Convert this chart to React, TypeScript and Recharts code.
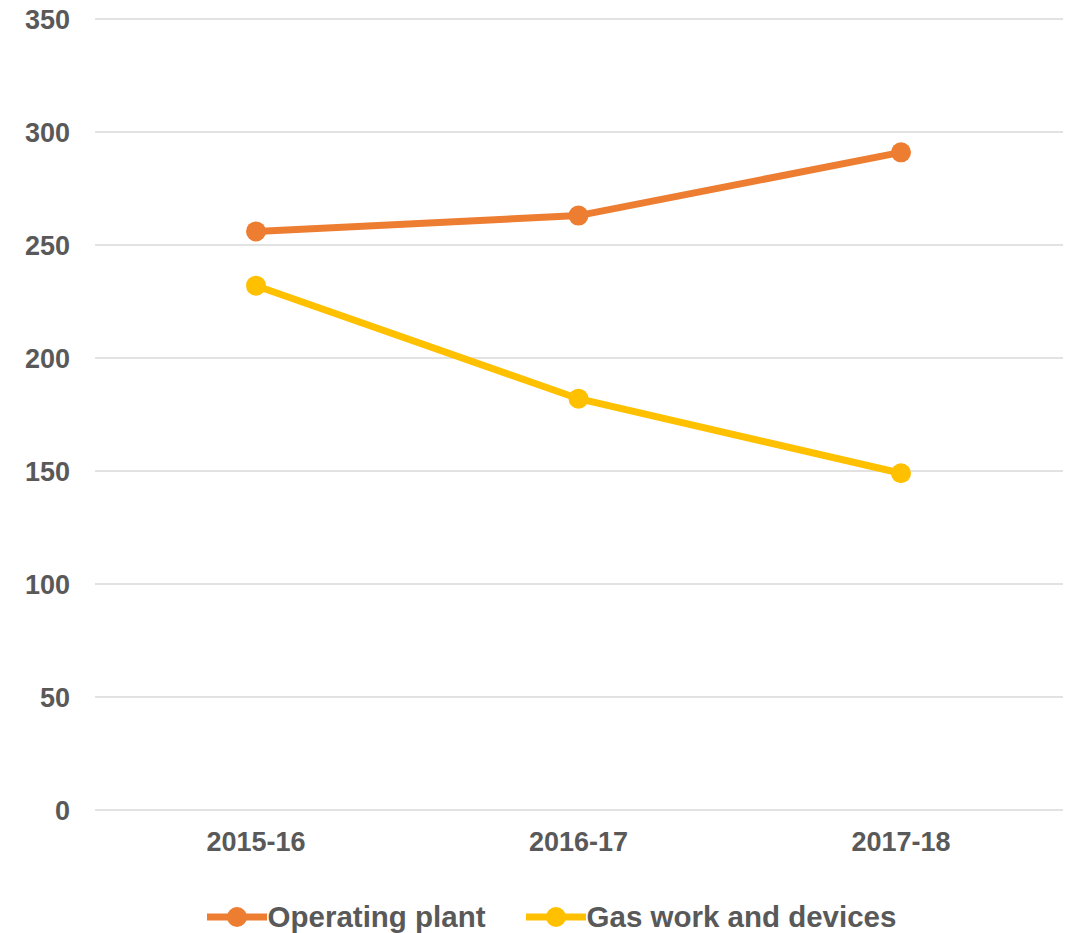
import React from 'react';
import {
  LineChart,
  Line,
  XAxis,
  YAxis,
  CartesianGrid,
  Legend,
} from 'recharts';

const years = ['2015-16', '2016-17', '2017-18'];
const operatingPlant = [256, 263, 291];
const gasWork = [232, 182, 149];
const yTicks = [0, 50, 100, 150, 200, 250, 300, 350];
const seriesOrder = ['Operating plant', 'Gas work and devices'];

const data = years.map((year, i) => ({
  year,
  operating: operatingPlant[i],
  gas: gasWork[i],
}));

const TEXT = '#595959';
const FONT = '"Liberation Sans", Arial, sans-serif';

const renderLegend = (props: any) => {
  const items = [...props.payload].sort(
    (a: any, b: any) => seriesOrder.indexOf(a.value) - seriesOrder.indexOf(b.value)
  );
  return (
    <div
      style={{
        display: 'flex',
        justifyContent: 'center',
        alignItems: 'center',
        gap: 40,
        height: 40,
        paddingLeft: 40,
        paddingTop: 4,
      }}
    >
      {items.map((entry: any) => (
        <div key={entry.value} style={{ display: 'flex', alignItems: 'center' }}>
          <svg width={60} height={24} style={{ marginRight: 1 }}>
            <line x1={0} y1={12} x2={60} y2={12} stroke={entry.color} strokeWidth={7} />
            <circle cx={30} cy={12} r={10} fill={entry.color} />
          </svg>
          <span style={{ fontFamily: FONT, fontWeight: 700, fontSize: 29.5, color: TEXT, lineHeight: '32px' }}>
            {entry.value}
          </span>
        </div>
      ))}
    </div>
  );
};

const App: React.FC = () => {
  return (
    <div style={{ position: 'absolute', left: 0, top: 0 }}>
      <LineChart width={1071} height={933} data={data} margin={{ top: 19, right: 8, bottom: 0, left: 0 }}>
        <CartesianGrid vertical={false} stroke='#D9D9D9' strokeWidth={1.5} />
        <XAxis
          dataKey='year'
          axisLine={false}
          tickLine={false}
          height={83}
          tickMargin={16}
          padding={{ left: 161, right: 162 }}
          tick={{ fill: TEXT, fontSize: 27, fontWeight: 700, fontFamily: FONT }}
        />
        <YAxis
          domain={[0, 350]}
          ticks={yTicks}
          axisLine={false}
          tickLine={false}
          width={95}
          tickMargin={19}
          tick={{ fill: TEXT, fontSize: 27, fontWeight: 700, fontFamily: FONT }}
        />
        <Legend verticalAlign='bottom' height={40} content={renderLegend} />
        <Line
          name='Operating plant'
          dataKey='operating'
          stroke='#ED7D31'
          strokeWidth={7}
          dot={{ r: 10, fill: '#ED7D31', stroke: '#ED7D31', strokeWidth: 0 }}
          isAnimationActive={false}
        />
        <Line
          name='Gas work and devices'
          dataKey='gas'
          stroke='#FFC000'
          strokeWidth={7}
          dot={{ r: 10, fill: '#FFC000', stroke: '#FFC000', strokeWidth: 0 }}
          isAnimationActive={false}
        />
      </LineChart>
    </div>
  );
};

export default App;
